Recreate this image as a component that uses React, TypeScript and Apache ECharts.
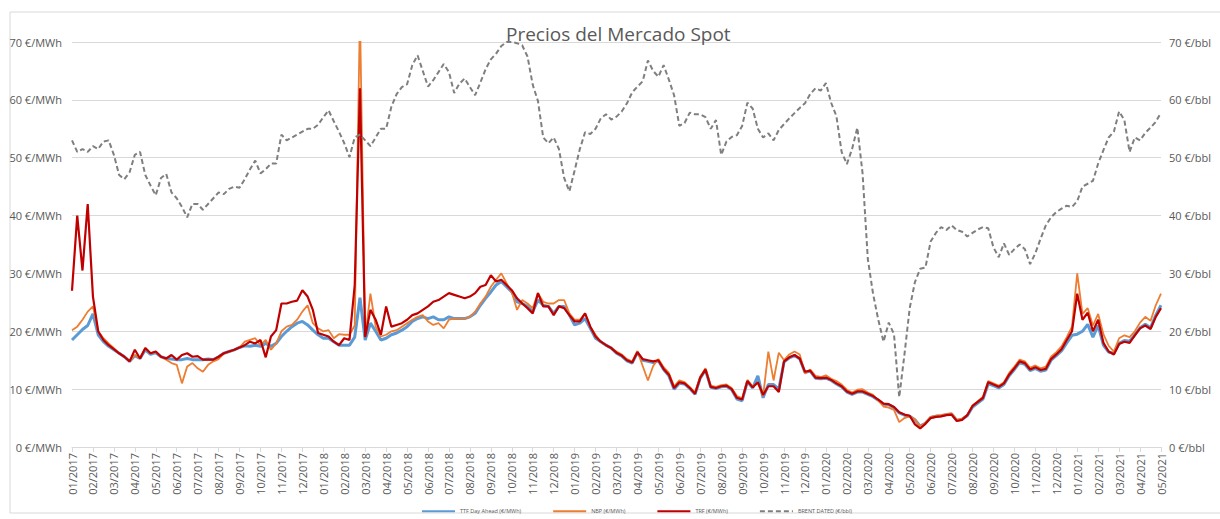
import React, { useEffect, useRef } from "react";
import * as echarts from "echarts";

// Month tick labels (one every 4 samples; 4 samples per month)
const monthLabels = [
  "01/2017","02/2017","03/2017","04/2017","05/2017","06/2017","07/2017","08/2017","09/2017","10/2017","11/2017","12/2017",
  "01/2018","02/2018","03/2018","04/2018","05/2018","06/2018","07/2018","08/2018","09/2018","10/2018","11/2018","12/2018",
  "01/2019","02/2019","03/2019","04/2019","05/2019","06/2019","07/2019","08/2019","09/2019","10/2019","11/2019","12/2019",
  "01/2020","02/2020","03/2020","04/2020","05/2020","06/2020","07/2020","08/2020","09/2020","10/2020","11/2020","12/2020",
  "01/2021","02/2021","03/2021","04/2021","05/2021",
];

const seriesNames = ["TTF Day Ahead (€/MWh)", "NBP (€/MWh)", "TRF (€/MWh)", "BRENT DATED (€/bbl)"];

// TTF Day Ahead (€/MWh), 4 samples per month
const ttf = [
  18.5, 19.4, 20.3, 21.0,  23.0, 19.4, 18.2, 17.4,  16.8, 16.2, 15.6, 14.8,  15.8, 15.3, 16.8, 16.0,
  16.3, 15.6, 15.3, 15.2,  15.1, 15.1, 15.3, 15.1,  15.1, 15.1, 15.2, 15.1,  15.6, 16.2, 16.5, 16.8,
  17.2, 17.5, 17.4, 17.6,  17.4, 17.9, 17.4, 17.9,  19.1, 20.0, 20.8, 21.4,  21.7, 21.1, 20.2, 19.4,
  18.8, 18.8, 18.2, 17.6,  17.6, 17.6, 19.0, 25.8,  18.5, 21.4, 20.0, 18.5,  18.8, 19.4, 19.7, 20.2,
  20.8, 21.7, 22.2, 22.5,  22.2, 22.5, 22.0, 22.0,  22.5, 22.2, 22.2, 22.2,  22.5, 23.1, 24.5, 25.7,
  26.8, 28.0, 28.6, 27.7,  26.8, 25.1, 24.8, 24.3,  23.4, 25.4, 24.5, 24.3,  23.1, 24.3, 24.3, 22.8,
  21.1, 21.4, 22.2, 20.5,  18.8, 18.2, 17.6, 17.1,  16.2, 15.7, 14.9, 14.5,  16.3, 15.0, 14.8, 14.6,
  14.9, 13.4, 12.3, 10.0,  11.0, 10.9, 10.1, 9.1,   11.9, 13.3, 10.3, 10.1,  10.4, 10.5, 9.9, 8.3,
  8.0, 11.3, 10.2, 12.3,   8.5, 10.8, 10.8, 10.0,   14.7, 15.4, 15.8, 15.2,  12.9, 13.1, 11.9, 11.8,
  11.9, 11.5, 10.9, 10.4,  9.5, 9.1, 9.5, 9.5,      9.1, 8.7, 8.1, 7.4,      7.3, 6.8, 5.9, 5.5,
  5.3, 4.7, 3.6, 4.1,      5.1, 5.3, 5.4, 5.6,      5.7, 4.6, 4.8, 5.4,      6.9, 7.6, 8.3, 10.9,
  10.6, 10.2, 10.8, 12.3,  13.4, 14.6, 14.3, 13.2,  13.6, 13.1, 13.3, 15.0,  15.8, 16.6, 18.0, 19.3,
  19.5, 20.0, 21.2, 19.0,  21.0, 17.6, 16.4, 16.2,  17.9, 18.4, 18.3, 19.4,  20.6, 21.2, 20.6, 22.8,
  24.5,
];

// NBP (€/MWh)
const nbp = [
  20.2, 20.8, 22.0, 23.4,  24.3, 20.0, 18.8, 17.9,  17.1, 16.2, 15.6, 14.8,  15.9, 15.3, 17.1, 16.2,
  16.5, 15.6, 15.1, 14.5,  14.2, 11.0, 13.9, 14.5,  13.6, 13.0, 14.2, 14.8,  15.2, 16.2, 16.5, 16.8,
  17.2, 18.2, 18.5, 18.8,  17.6, 18.5, 16.8, 17.9,  20.0, 20.8, 21.1, 22.0,  23.4, 24.5, 21.4, 20.5,
  20.0, 20.2, 18.8, 19.5,  19.4, 19.4, 21.0, 75.0,  19.0, 26.5, 20.8, 19.1,  19.4, 20.0, 20.2, 20.8,
  21.4, 22.0, 22.5, 22.8,  21.7, 21.1, 21.4, 20.5,  22.0, 22.2, 22.2, 22.2,  22.5, 23.4, 24.8, 26.0,
  27.7, 28.9, 30.0, 28.3,  26.8, 23.7, 25.4, 24.8,  24.0, 26.6, 25.1, 24.8,  24.8, 25.4, 25.4, 23.1,
  22.0, 22.0, 23.1, 20.8,  19.4, 18.2, 17.6, 17.1,  16.5, 16.0, 15.2, 14.8,  16.6, 14.0, 11.5, 14.0,
  15.2, 13.8, 12.8, 10.5,  11.5, 11.2, 10.4, 9.4,   12.2, 13.6, 10.6, 10.4,  10.7, 10.8, 10.2, 8.8,
  8.4, 11.6, 10.5, 11.0,   8.8, 16.5, 11.5, 16.3,   15.0, 16.0, 16.5, 16.0,  12.7, 13.4, 12.3, 12.1,
  12.4, 11.8, 11.4, 10.8,  9.9, 9.4, 9.9, 10.0,     9.4, 9.0, 8.0, 7.0,      6.8, 6.4, 4.3, 5.0,
  5.3, 4.8, 3.5, 4.2,      5.2, 5.4, 5.5, 5.7,      5.8, 4.7, 4.9, 5.6,      7.2, 7.9, 8.7, 11.4,
  11.0, 10.6, 11.2, 12.8,  13.9, 15.1, 14.8, 13.7,  14.1, 13.6, 13.9, 15.6,  16.4, 17.4, 19.0, 20.8,
  30.0, 23.0, 24.0, 21.0,  23.0, 19.5, 17.5, 16.5,  18.8, 19.3, 19.0, 20.0,  21.5, 22.5, 21.8, 24.5,
  26.5,
];

// TRF (€/MWh)
const trf = [
  27.0, 40.0, 30.5, 42.0,  26.0, 20.0, 18.5, 17.6,  16.9, 16.2, 15.6, 14.8,  16.8, 15.3, 17.1, 16.2,
  16.5, 15.6, 15.3, 15.9,  15.1, 15.9, 16.2, 15.6,  15.7, 15.1, 15.1, 15.1,  15.6, 16.2, 16.5, 16.8,
  17.2, 17.6, 18.2, 17.9,  18.5, 15.5, 19.1, 20.2,  24.8, 24.8, 25.1, 25.3,  27.1, 26.0, 23.7, 19.7,
  19.4, 19.1, 18.2, 17.6,  18.8, 18.5, 28.0, 62.0,  19.0, 23.7, 22.0, 19.4,  24.3, 20.8, 21.1, 21.4,
  22.0, 22.8, 23.1, 23.7,  24.3, 25.1, 25.4, 26.0,  26.6, 26.3, 26.0, 25.7,  26.0, 26.6, 27.7, 28.0,
  29.7, 28.6, 28.9, 28.0,  27.1, 25.7, 24.8, 24.0,  23.1, 26.6, 24.3, 24.3,  22.8, 24.3, 24.0, 22.8,
  21.7, 21.7, 23.1, 20.8,  19.1, 18.2, 17.6, 17.1,  16.3, 15.8, 15.0, 14.6,  16.4, 15.2, 15.0, 14.8,
  15.0, 13.5, 12.5, 10.2,  11.2, 11.0, 10.2, 9.2,   12.0, 13.4, 10.4, 10.2,  10.5, 10.6, 10.0, 8.5,
  8.2, 11.4, 10.3, 11.2,   9.0, 10.5, 10.5, 9.5,    14.8, 15.5, 15.9, 15.3,  13.0, 13.2, 12.0, 11.9,
  12.0, 11.6, 11.0, 10.5,  9.6, 9.2, 9.6, 9.6,      9.2, 8.8, 8.2, 7.5,      7.4, 6.9, 6.0, 5.6,
  5.4, 3.9, 3.2, 4.0,      5.0, 5.2, 5.3, 5.5,      5.6, 4.5, 4.7, 5.5,      7.1, 7.8, 8.5, 11.2,
  10.8, 10.4, 11.0, 12.5,  13.6, 14.8, 14.5, 13.4,  13.8, 13.3, 13.5, 15.2,  16.0, 16.9, 18.5, 20.0,
  26.5, 22.0, 23.2, 20.0,  22.0, 18.0, 16.5, 16.0,  17.8, 18.2, 18.0, 19.3,  20.5, 21.0, 20.4, 22.5,
  24.0,
];

// BRENT DATED (€/bbl)
const brent = [
  53.0, 51.0, 51.5, 51.0,  52.0, 51.5, 52.8, 53.0,  50.5, 47.0, 46.3, 47.5,  50.5, 51.0, 47.0, 45.2,
  43.5, 46.5, 47.2, 44.0,  43.0, 41.5, 39.7, 42.0,  42.0, 41.0, 42.0, 43.0,  44.0, 43.7, 44.6, 45.0,
  44.8, 46.3, 48.0, 49.5,  47.3, 48.0, 49.0, 49.0,  54.0, 53.0, 53.5, 54.0,  54.5, 55.0, 55.0, 55.7,
  57.0, 58.2, 56.3, 54.5,  52.5, 50.1, 53.5, 54.0,  53.0, 52.0, 53.5, 55.0,  55.0, 58.8, 61.0, 62.2,
  62.7, 66.0, 67.7, 65.0,  62.3, 63.4, 64.8, 66.2,  64.8, 61.2, 62.8, 63.7,  62.2, 60.8, 63.0, 65.3,
  67.0, 68.0, 69.3, 70.0,  70.0, 69.8, 69.4, 67.5,  62.6, 59.8, 53.5, 52.5,  53.5, 51.5, 46.5, 44.2,
  47.8, 51.5, 54.4, 54.1,  55.0, 56.8, 57.5, 56.6,  57.1, 58.0, 59.4, 61.3,  62.3, 63.2, 66.8, 65.0,
  64.0, 66.0, 63.5, 60.8,  55.5, 56.0, 57.8, 57.5,  57.5, 57.0, 55.0, 56.5,  50.5, 52.8, 53.6, 53.9,
  55.5, 59.5, 58.5, 55.0,  53.5, 54.2, 53.0, 54.8,  55.8, 56.8, 57.7, 58.6,  59.4, 61.0, 62.0, 61.6,
  62.9, 59.5, 57.2, 51.0,  48.9, 51.5, 55.2, 47.3,  32.5, 26.5, 22.0, 18.2,  21.5, 19.5, 8.6, 16.0,
  24.0, 28.5, 30.8, 31.0,  35.5, 37.0, 38.0, 37.5,  38.3, 37.5, 37.2, 36.4,  37.0, 37.6, 38.0, 37.8,
  34.5, 32.8, 35.2, 33.2,  34.2, 35.0, 34.2, 31.6,  33.5, 36.0, 38.3, 39.7,  40.6, 41.2, 41.7, 41.5,
  42.5, 45.0, 45.5, 46.0,  49.0, 51.3, 53.5, 54.5,  58.0, 56.5, 51.0, 53.5,  53.0, 54.3, 55.2, 56.2,
  57.8,
];

const SAMPLES_PER_MONTH = 4;
const FONT = "'Open Sans', sans-serif";
const TEXT = "#595959";
const GRID = "#d9d9d9";

const toPairs = (arr: number[]) => arr.map((v, i) => [i, v]);

export default function App() {
  const ref = useRef<HTMLDivElement>(null);

  useEffect(() => {
    if (!ref.current) return;
    const chart = echarts.init(ref.current, undefined, { renderer: "svg" });
    const lastIdx = (monthLabels.length - 1) * SAMPLES_PER_MONTH;

    chart.setOption({
      animation: false,
      backgroundColor: "#ffffff",
      textStyle: { fontFamily: FONT },
      graphic: [
        {
          type: "rect",
          shape: { x: 10, y: 12, width: 1215, height: 501 },
          style: { fill: "none", stroke: GRID, lineWidth: 1 },
          silent: true,
          z: -1,
        },
      ],
      title: {
        text: "Precios del Mercado Spot",
        left: 501,
        top: 19,
        textStyle: { fontFamily: FONT, fontSize: 19, fontWeight: "normal", color: TEXT },
      },
      legend: {
        data: seriesNames,
        left: 416,
        top: 503,
        itemWidth: 33,
        itemHeight: 8,
        itemGap: 31,
        itemStyle: { opacity: 0 },
        textStyle: { fontFamily: FONT, fontSize: 5.5, color: TEXT },
      },
      grid: { left: 72, right: 59, top: 42, bottom: 72, containLabel: false },
      xAxis: {
        type: "value",
        min: 0,
        max: lastIdx,
        interval: SAMPLES_PER_MONTH,
        axisLine: { show: true, lineStyle: { color: GRID } },
        axisTick: { show: true, length: 5, lineStyle: { color: GRID } },
        splitLine: { show: false },
        axisLabel: {
          rotate: 90,
          margin: 6,
          fontFamily: FONT,
          fontSize: 11,
          color: TEXT,
          showMinLabel: true,
          showMaxLabel: true,
          formatter: (v: number) => monthLabels[Math.round(v / SAMPLES_PER_MONTH)] ?? "",
        },
      },
      yAxis: [
        {
          type: "value",
          min: 0,
          max: 70,
          interval: 10,
          axisLine: { show: false },
          axisTick: { show: false },
          splitLine: { show: true, lineStyle: { color: GRID, width: 1 } },
          axisLabel: {
            margin: 10,
            fontFamily: FONT,
            fontSize: 11,
            color: TEXT,
            formatter: "{value} €/MWh",
          },
        },
        {
          type: "value",
          min: 0,
          max: 70,
          interval: 10,
          position: "right",
          axisLine: { show: false },
          axisTick: { show: false },
          splitLine: { show: false },
          axisLabel: {
            margin: 8,
            fontFamily: FONT,
            fontSize: 11,
            color: TEXT,
            formatter: "{value} €/bbl",
          },
        },
      ],
      series: [
        {
          name: seriesNames[0],
          type: "line",
          data: toPairs(ttf),
          symbol: "none",
          clip: true,
          lineStyle: { color: "#5B9BD5", width: 3 },
          itemStyle: { color: "#5B9BD5" },
        },
        {
          name: seriesNames[1],
          type: "line",
          data: toPairs(nbp),
          symbol: "none",
          clip: true,
          lineStyle: { color: "#ED7D31", width: 1.8 },
          itemStyle: { color: "#ED7D31" },
        },
        {
          name: seriesNames[2],
          type: "line",
          data: toPairs(trf),
          symbol: "none",
          clip: true,
          lineStyle: { color: "#C00000", width: 2.2 },
          itemStyle: { color: "#C00000" },
        },
        {
          name: seriesNames[3],
          type: "line",
          yAxisIndex: 1,
          data: toPairs(brent),
          symbol: "none",
          clip: true,
          lineStyle: { color: "#7F7F7F", width: 2, type: [5, 3] },
          itemStyle: { color: "#7F7F7F" },
        },
      ],
    });

    return () => chart.dispose();
  }, []);

  return (
    <div
      ref={ref}
      style={{ position: "fixed", left: 0, top: 0, width: 1220, height: 519, background: "#fff" }}
    />
  );
}
